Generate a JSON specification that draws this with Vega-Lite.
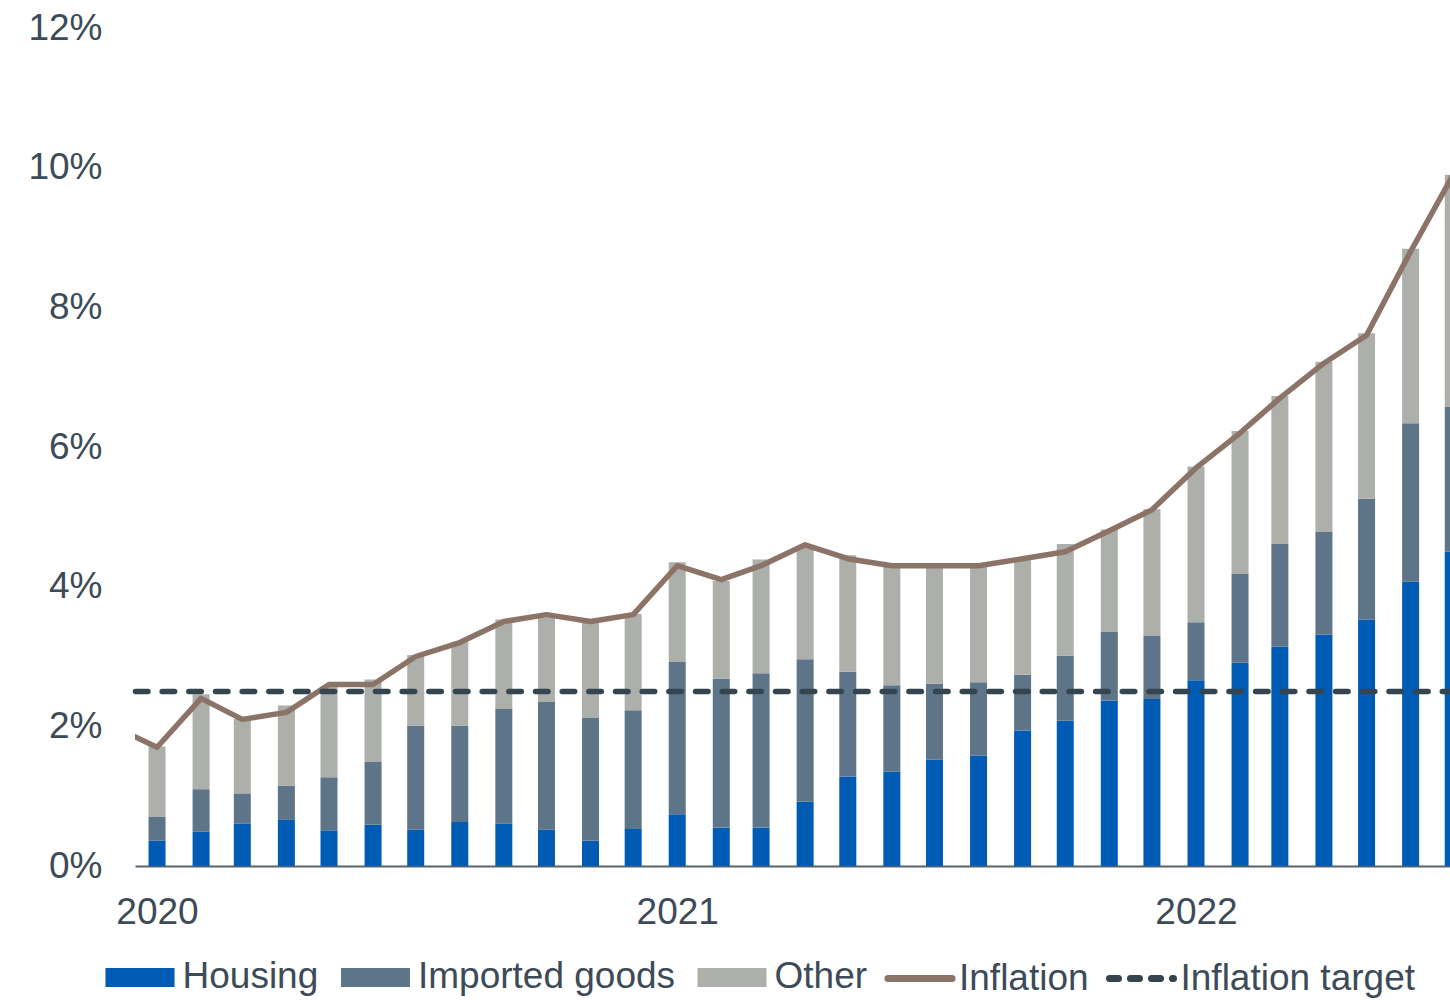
{
  "$schema": "https://vega.github.io/schema/vega-lite/v6.json",
  "width": 1315,
  "height": 838,
  "autosize": {"type": "none"},
  "padding": {"left": 135, "top": 28, "right": 0, "bottom": 134},
  "background": "white",
  "config": {
    "view": {"stroke": null},
    "font": "Liberation Sans",
    "axis": {"labelFont": "Liberation Sans", "labelFontSize": 37, "labelColor": "#3D4A57", "grid": false, "ticks": false, "tickSize": 0, "title": null}
  },
  "datasets": {
    "components": [
      {"date": "2020-01-01", "Housing": 0.36, "Imported goods": 0.34, "Other": 1.01},
      {"date": "2020-02-01", "Housing": 0.49, "Imported goods": 0.61, "Other": 1.36},
      {"date": "2020-03-01", "Housing": 0.61, "Imported goods": 0.43, "Other": 1.07},
      {"date": "2020-04-01", "Housing": 0.66, "Imported goods": 0.49, "Other": 1.15},
      {"date": "2020-05-01", "Housing": 0.51, "Imported goods": 0.76, "Other": 1.30},
      {"date": "2020-06-01", "Housing": 0.59, "Imported goods": 0.90, "Other": 1.18},
      {"date": "2020-07-01", "Housing": 0.52, "Imported goods": 1.49, "Other": 1.01},
      {"date": "2020-08-01", "Housing": 0.63, "Imported goods": 1.38, "Other": 1.20},
      {"date": "2020-09-01", "Housing": 0.61, "Imported goods": 1.64, "Other": 1.28},
      {"date": "2020-10-01", "Housing": 0.52, "Imported goods": 1.83, "Other": 1.21},
      {"date": "2020-11-01", "Housing": 0.36, "Imported goods": 1.76, "Other": 1.38},
      {"date": "2020-12-01", "Housing": 0.53, "Imported goods": 1.70, "Other": 1.38},
      {"date": "2021-01-01", "Housing": 0.74, "Imported goods": 2.18, "Other": 1.43},
      {"date": "2021-02-01", "Housing": 0.55, "Imported goods": 2.13, "Other": 1.40},
      {"date": "2021-03-01", "Housing": 0.55, "Imported goods": 2.21, "Other": 1.63},
      {"date": "2021-04-01", "Housing": 0.92, "Imported goods": 2.04, "Other": 1.60},
      {"date": "2021-05-01", "Housing": 1.28, "Imported goods": 1.50, "Other": 1.67},
      {"date": "2021-06-01", "Housing": 1.35, "Imported goods": 1.24, "Other": 1.71},
      {"date": "2021-07-01", "Housing": 1.52, "Imported goods": 1.09, "Other": 1.68},
      {"date": "2021-08-01", "Housing": 1.58, "Imported goods": 1.05, "Other": 1.66},
      {"date": "2021-09-01", "Housing": 1.94, "Imported goods": 0.80, "Other": 1.64},
      {"date": "2021-10-01", "Housing": 2.08, "Imported goods": 0.93, "Other": 1.60},
      {"date": "2021-11-01", "Housing": 2.37, "Imported goods": 0.98, "Other": 1.47},
      {"date": "2021-12-01", "Housing": 2.39, "Imported goods": 0.91, "Other": 1.81},
      {"date": "2022-01-01", "Housing": 2.66, "Imported goods": 0.83, "Other": 2.23},
      {"date": "2022-02-01", "Housing": 2.91, "Imported goods": 1.27, "Other": 2.05},
      {"date": "2022-03-01", "Housing": 3.14, "Imported goods": 1.47, "Other": 2.12},
      {"date": "2022-04-01", "Housing": 3.31, "Imported goods": 1.48, "Other": 2.43},
      {"date": "2022-05-01", "Housing": 3.53, "Imported goods": 1.73, "Other": 2.37},
      {"date": "2022-06-01", "Housing": 4.07, "Imported goods": 2.27, "Other": 2.50},
      {"date": "2022-07-01", "Housing": 4.50, "Imported goods": 2.08, "Other": 3.32}
    ],
    "inflation": [
      {"date": "2019-12-01", "inflation": 2.0},
      {"date": "2020-01-01", "inflation": 1.7},
      {"date": "2020-02-01", "inflation": 2.4},
      {"date": "2020-03-01", "inflation": 2.1},
      {"date": "2020-04-01", "inflation": 2.2},
      {"date": "2020-05-01", "inflation": 2.6},
      {"date": "2020-06-01", "inflation": 2.6},
      {"date": "2020-07-01", "inflation": 3.0},
      {"date": "2020-08-01", "inflation": 3.2},
      {"date": "2020-09-01", "inflation": 3.5},
      {"date": "2020-10-01", "inflation": 3.6},
      {"date": "2020-11-01", "inflation": 3.5},
      {"date": "2020-12-01", "inflation": 3.6},
      {"date": "2021-01-01", "inflation": 4.3},
      {"date": "2021-02-01", "inflation": 4.1},
      {"date": "2021-03-01", "inflation": 4.3},
      {"date": "2021-04-01", "inflation": 4.6},
      {"date": "2021-05-01", "inflation": 4.4},
      {"date": "2021-06-01", "inflation": 4.3},
      {"date": "2021-07-01", "inflation": 4.3},
      {"date": "2021-08-01", "inflation": 4.3},
      {"date": "2021-09-01", "inflation": 4.4},
      {"date": "2021-10-01", "inflation": 4.5},
      {"date": "2021-11-01", "inflation": 4.8},
      {"date": "2021-12-01", "inflation": 5.1},
      {"date": "2022-01-01", "inflation": 5.7},
      {"date": "2022-02-01", "inflation": 6.2},
      {"date": "2022-03-01", "inflation": 6.7},
      {"date": "2022-04-01", "inflation": 7.2},
      {"date": "2022-05-01", "inflation": 7.6},
      {"date": "2022-06-01", "inflation": 8.8},
      {"date": "2022-07-01", "inflation": 9.9}
    ],
    "target": [{"target": 2.5}]
  },
  "layer": [
    {
      "data": {"name": "components"},
      "transform": [{"fold": ["Housing", "Imported goods", "Other"], "as": ["component", "value"]}],
      "mark": {"type": "bar", "size": 17, "clip": true},
      "encoding": {
        "x": {
          "field": "date", "type": "temporal",
          "scale": {"type": "utc", "padding": 0, "domain": [
            {"year": 2019, "month": 12, "date": 16, "hours": 12, "utc": true},
            {"year": 2022, "month": 6, "date": 28, "hours": 17, "utc": true}
          ]},
          "axis": {
            "values": [
              {"year": 2020, "month": 1, "date": 1, "utc": true},
              {"year": 2021, "month": 1, "date": 1, "utc": true},
              {"year": 2022, "month": 1, "date": 1, "utc": true}
            ],
            "labelExpr": "utcFormat(datum.value, '%Y')",
            "domain": true, "domainColor": "#56626C", "domainWidth": 2,
            "labelPadding": 28, "labelFlush": false, "labelOverlap": false, "title": null
          }
        },
        "y": {
          "field": "value", "type": "quantitative", "stack": "zero",
          "scale": {"domain": [0, 12], "nice": false},
          "axis": {"values": [0, 2, 4, 6, 8, 10, 12], "labelExpr": "datum.value + '%'", "domain": false, "labelPadding": 33, "title": null}
        },
        "color": {
          "field": "component", "type": "nominal",
          "scale": {
            "domain": ["Housing", "Imported goods", "Other", "Inflation", "Inflation target"],
            "range": ["#005BB5", "#5E7488", "#ADAFAA", "#8B7467", "#35454F"]
          },
          "legend": {
            "title": null, "orient": "none", "legendX": -33, "legendY": 911,
            "direction": "horizontal", "columnPadding": 10.5, "labelOffset": 4.5,
            "labelFont": "Liberation Sans", "labelFontSize": 37, "labelColor": "#3D4A57", "labelLimit": 600,
            "symbolSize": 4761, "padding": 0,
            "encode": {
              "symbols": {
                "update": {
                  "shape": {"signal": "indexof(['Inflation','Inflation target'], datum.value) >= 0 ? 'M-0.826,0L1.029,0' : 'M-0.899,-0.174L0.899,-0.174L0.899,0.174L-0.899,0.174Z'"},
                  "fill": {"signal": "indexof(['Inflation','Inflation target'], datum.value) >= 0 ? 'transparent' : scale('color', datum.value)"},
                  "stroke": {"signal": "scale('color', datum.value)"},
                  "strokeWidth": {"value": 7},
                  "strokeDash": {"signal": "datum.value === 'Inflation target' ? [9, 12] : null"},
                  "strokeCap": {"signal": "indexof(['Inflation','Inflation target'], datum.value) >= 0 ? 'round' : 'butt'"},
                  "strokeJoin": {"signal": "indexof(['Inflation','Inflation target'], datum.value) >= 0 ? 'round' : 'miter'"},
                  "opacity": {"value": 1}
                }
              }
            }
          }
        },
        "order": {"field": "component", "sort": "ascending"}
      }
    },
    {
      "data": {"name": "inflation"},
      "mark": {"type": "line", "clip": true, "strokeWidth": 5.5, "strokeJoin": "round", "strokeCap": "round"},
      "encoding": {
        "x": {"field": "date", "type": "temporal"},
        "y": {"field": "inflation", "type": "quantitative"},
        "color": {"datum": "Inflation", "type": "nominal"}
      }
    },
    {
      "data": {"name": "target"},
      "mark": {"type": "rule", "strokeWidth": 5.5, "strokeDash": [12.5, 14.17], "strokeDashOffset": 4.8, "strokeCap": "round"},
      "encoding": {
        "y": {"field": "target", "type": "quantitative"},
        "color": {"datum": "Inflation target", "type": "nominal"}
      }
    }
  ]
}
